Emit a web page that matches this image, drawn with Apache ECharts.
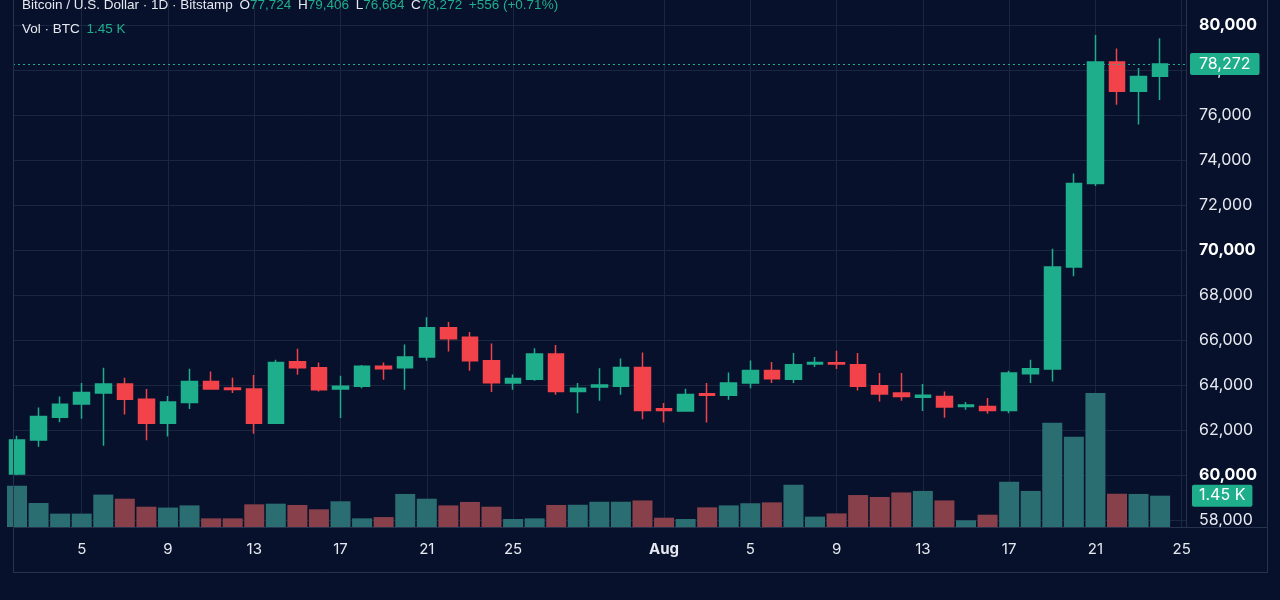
<!DOCTYPE html>
<html>
<head>
<meta charset="utf-8">
<title>BTCUSD 1D</title>
<script src="https://cdn.jsdelivr.net/npm/echarts@6/dist/echarts.min.js"></script>
<style>
  html, body { margin: 0; padding: 0; background: #07112b; }
  #main { width: 1280px; height: 600px; }
</style>
</head>
<body>
<div id="main"></div>
<script>
// day index 0 = Jul 2, last = Aug 24
const days = [
  'Jul 2','Jul 3','Jul 4','Jul 5','Jul 6','Jul 7','Jul 8','Jul 9','Jul 10','Jul 11',
  'Jul 12','Jul 13','Jul 14','Jul 15','Jul 16','Jul 17','Jul 18','Jul 19','Jul 20','Jul 21',
  'Jul 22','Jul 23','Jul 24','Jul 25','Jul 26','Jul 27','Jul 28','Jul 29','Jul 30','Jul 31',
  'Aug 1','Aug 2','Aug 3','Aug 4','Aug 5','Aug 6','Aug 7','Aug 8','Aug 9','Aug 10',
  'Aug 11','Aug 12','Aug 13','Aug 14','Aug 15','Aug 16','Aug 17','Aug 18','Aug 19','Aug 20',
  'Aug 21','Aug 22','Aug 23','Aug 24'
];
const opens = [
  60050, 61560, 62570, 63160, 63640, 64040, 63370, 62300, 63220, 64160,
  63870, 63820, 62300, 65030, 64770, 63820, 63940, 64830, 64770, 65240,
  66540, 66120, 65080, 64090, 64260, 65380, 63710, 63910, 63940, 64780,
  62940, 62840, 63610, 63540, 64090, 64650, 64260, 64930, 64990, 64900,
  63970, 63640, 63460, 63490, 63050, 63050, 62870, 64500, 64710, 69250,
  72960, 78350, 77050, 77724
];
const closes = [
  61560, 62600, 63150, 63670, 64040, 63370, 62300, 63240, 64160, 63820,
  63800, 62300, 65000, 64770, 63790, 63940, 64830, 64720, 65240, 66540,
  66060, 65080, 64100, 64290, 65380, 63710, 63860, 64000, 64780, 62870,
  62870, 63580, 63540, 64090, 64650, 64280, 64900, 65000, 64930, 63940,
  63600, 63490, 63540, 63020, 63110, 62870, 64530, 64720, 69250, 72960,
  78350, 77050, 77716, 78272
];
const lows = [
  60000, 61260, 62350, 62500, 61300, 62690, 61550, 61710, 62930, 63800,
  63640, 61830, 62280, 64460, 63710, 62530, 63860, 64230, 63790, 65080,
  65490, 64630, 63690, 63790, 64190, 63570, 62750, 63300, 63570, 62480,
  62330, 62820, 62330, 63340, 63860, 64090, 64090, 64800, 64710, 63760,
  63270, 63300, 62850, 62550, 62900, 62720, 62750, 64090, 64160, 68830,
  72840, 76450, 75580, 76664
];
const highs = [
  61740, 63000, 63490, 64090, 64770, 64320, 63820, 63510, 64720, 64600,
  64320, 64440, 65120, 65610, 65000, 64410, 64890, 65000, 65800, 67010,
  66800, 66360, 65840, 64470, 65630, 65780, 64090, 64750, 65180, 65440,
  63200, 63830, 64090, 64560, 65090, 65020, 65420, 65240, 65520, 65420,
  64530, 64530, 64050, 63710, 63240, 63420, 64630, 65120, 70050, 73400,
  79560, 78960, 78090, 79406
];
const volumes = [
  1910, 1110, 620, 620, 1500, 1310, 940, 900, 1000, 400,
  400, 1050, 1080, 1020, 820, 1190, 400, 460, 1530, 1310,
  1000, 1160, 940, 370, 400, 1020, 1030, 1170, 1170, 1230,
  430, 370, 910, 1000, 1100, 1140, 1960, 480, 630, 1480,
  1390, 1600, 1670, 1230, 310, 570, 2090, 1670, 4830, 4180,
  6200, 1540, 1530, 1450
];
const tickDays = [3, 7, 11, 15, 19, 23, 30, 34, 38, 42, 46, 50, 54];
const tickLabels = ['5', '9', '13', '17', '21', '25', 'Aug', '5', '9', '13', '17', '21', '25'];
const priceTicks = [58000, 60000, 62000, 64000, 66000, 68000, 70000, 72000, 74000, 76000, 78000, 80000];
const changeText = '+556 (+0.71%)';
const lastPrice = 78272;
const lastVolume = 1450;

const UP = '#1fae8c';
const DOWN = '#f2424a';
const VOL_UP = '#2a6e71';
const VOL_DOWN = '#88404b';
const BG = '#07112b';
const GRID_LINE = '#1b2641';
const FRAME = '#27324d';
const TEXT = '#e6e9f0';
const FONT = 'Inter, Roboto, sans-serif';

const candles = days.map((d, i) => [i, opens[i], closes[i], lows[i], highs[i]]);
const volBars = volumes.map((v, i) => ({
  value: [i, v],
  itemStyle: { color: closes[i] >= opens[i] ? VOL_UP : VOL_DOWN }
}));

function fmt(n) {
  return n.toLocaleString('en-US');
}

const iN = days.length - 1;
const headline =
  '{w|Bitcoin / U.S. Dollar · 1D · Bitstamp}  {w|O}{g|' + fmt(opens[iN]) + '}  {w|H}{g|' + fmt(highs[iN]) +
  '}  {w|L}{g|' + fmt(lows[iN]) + '}  {w|C}{g|' + fmt(closes[iN]) + '}  {g|' + changeText + '}';
const volLine = '{w|Vol · BTC}  {g|' + (volumes[iN] / 1000).toFixed(2) + ' K}';
const legendRich = {
  w: { fill: TEXT, fontSize: 13.5, fontFamily: '"Liberation Sans", Roboto, sans-serif' },
  g: { fill: UP, fontSize: 13.5, fontFamily: '"Liberation Sans", Roboto, sans-serif' }
};

const chart = echarts.init(document.getElementById('main'));

chart.setOption({
  backgroundColor: BG,
  animation: false,
  textStyle: { fontFamily: FONT },
  grid: [
    { left: 13, right: 94, top: 0, bottom: 73 },
    { left: 13, right: 94, top: 311, bottom: 73 }
  ],
  xAxis: [
    {
      type: 'value', gridIndex: 0, min: -0.185, max: 54.2,
      axisLine: { show: false },
      axisTick: { show: false, customValues: tickDays },
      axisLabel: {
        customValues: tickDays,
        color: TEXT, fontSize: 15, margin: 15,
        formatter: v => {
          const lab = tickLabels[tickDays.indexOf(v)];
          return lab === 'Aug' ? '{b|Aug}' : lab;
        },
        rich: { b: { fontWeight: 'bold', fontSize: 15, color: TEXT } }
      },
      splitLine: { show: true, lineStyle: { color: GRID_LINE, width: 1 } }
    },
    { type: 'value', gridIndex: 1, min: -0.185, max: 54.2, show: false }
  ],
  yAxis: [
    {
      type: 'value', gridIndex: 0, position: 'right', min: 57689, max: 81111,
      axisLine: { show: false },
      axisTick: { show: false, customValues: priceTicks },
      axisLabel: {
        customValues: priceTicks,
        color: TEXT, fontSize: 16, margin: 13,
        formatter: v => (v % 10000 === 0 ? '{b|' + fmt(v) + '}' : fmt(v)),
        rich: { b: { fontWeight: 'bold', fontSize: 16, color: '#ffffff' } }
      },
      splitLine: { show: true, lineStyle: { color: GRID_LINE, width: 1 } }
    },
    { type: 'value', gridIndex: 1, min: 0, max: 10000, show: false }
  ],
  series: [
    {
      name: 'Vol',
      type: 'bar',
      xAxisIndex: 1, yAxisIndex: 1,
      barWidth: 20,
      clip: true,
      data: volBars,
      markLine: {
        silent: true,
        symbol: ['none', 'none'],
        lineStyle: { color: 'rgba(0,0,0,0)', width: 0 },
        label: {
          show: true,
          position: 'end', distance: 6,
          formatter: (lastVolume / 1000).toFixed(2) + ' K',
          color: '#ffffff', fontSize: 16, opacity: 1,
          backgroundColor: UP, padding: [3, 7], borderRadius: 2
        },
        data: [{ yAxis: lastVolume }]
      }
    },
    {
      name: 'BTCUSD',
      type: 'candlestick',
      xAxisIndex: 0, yAxisIndex: 0,
      barWidth: 16,
      clip: true,
      data: candles,
      itemStyle: {
        color: UP, color0: DOWN,
        borderColor: UP, borderColor0: DOWN,
        borderWidth: 1.5
      },
      markLine: {
        silent: true,
        symbol: ['none', 'none'],
        lineStyle: { color: UP, type: [2, 3], width: 1.2, opacity: 1 },
        label: {
          position: 'end', distance: 4,
          formatter: fmt(lastPrice),
          color: '#ffffff', fontSize: 16,
          backgroundColor: UP, padding: [3, 9], borderRadius: 2
        },
        data: [{ yAxis: lastPrice }]
      }
    }
  ],
  graphic: [
    // pane frame
    { type: 'line', silent: true, z: 10, shape: { x1: 13.5, y1: 0, x2: 13.5, y2: 573 }, style: { stroke: FRAME, lineWidth: 1 } },
    { type: 'line', silent: true, z: 10, shape: { x1: 13, y1: 527.5, x2: 1267, y2: 527.5 }, style: { stroke: FRAME, lineWidth: 1 } },
    { type: 'line', silent: true, z: 10, shape: { x1: 13, y1: 572.5, x2: 1267, y2: 572.5 }, style: { stroke: FRAME, lineWidth: 1 } },
    { type: 'line', silent: true, z: 10, shape: { x1: 1186.5, y1: 0, x2: 1186.5, y2: 527 }, style: { stroke: FRAME, lineWidth: 1 } },
    { type: 'line', silent: true, z: 10, shape: { x1: 1267.5, y1: 0, x2: 1267.5, y2: 573 }, style: { stroke: FRAME, lineWidth: 1 } },
    // legend rows
    { type: 'text', silent: true, z: 20, x: 22, y: 5, style: { text: headline, rich: legendRich, verticalAlign: 'middle' } },
    { type: 'text', silent: true, z: 20, x: 22, y: 29, style: { text: volLine, rich: legendRich, verticalAlign: 'middle' } }
  ]
});
</script>
</body>
</html>
